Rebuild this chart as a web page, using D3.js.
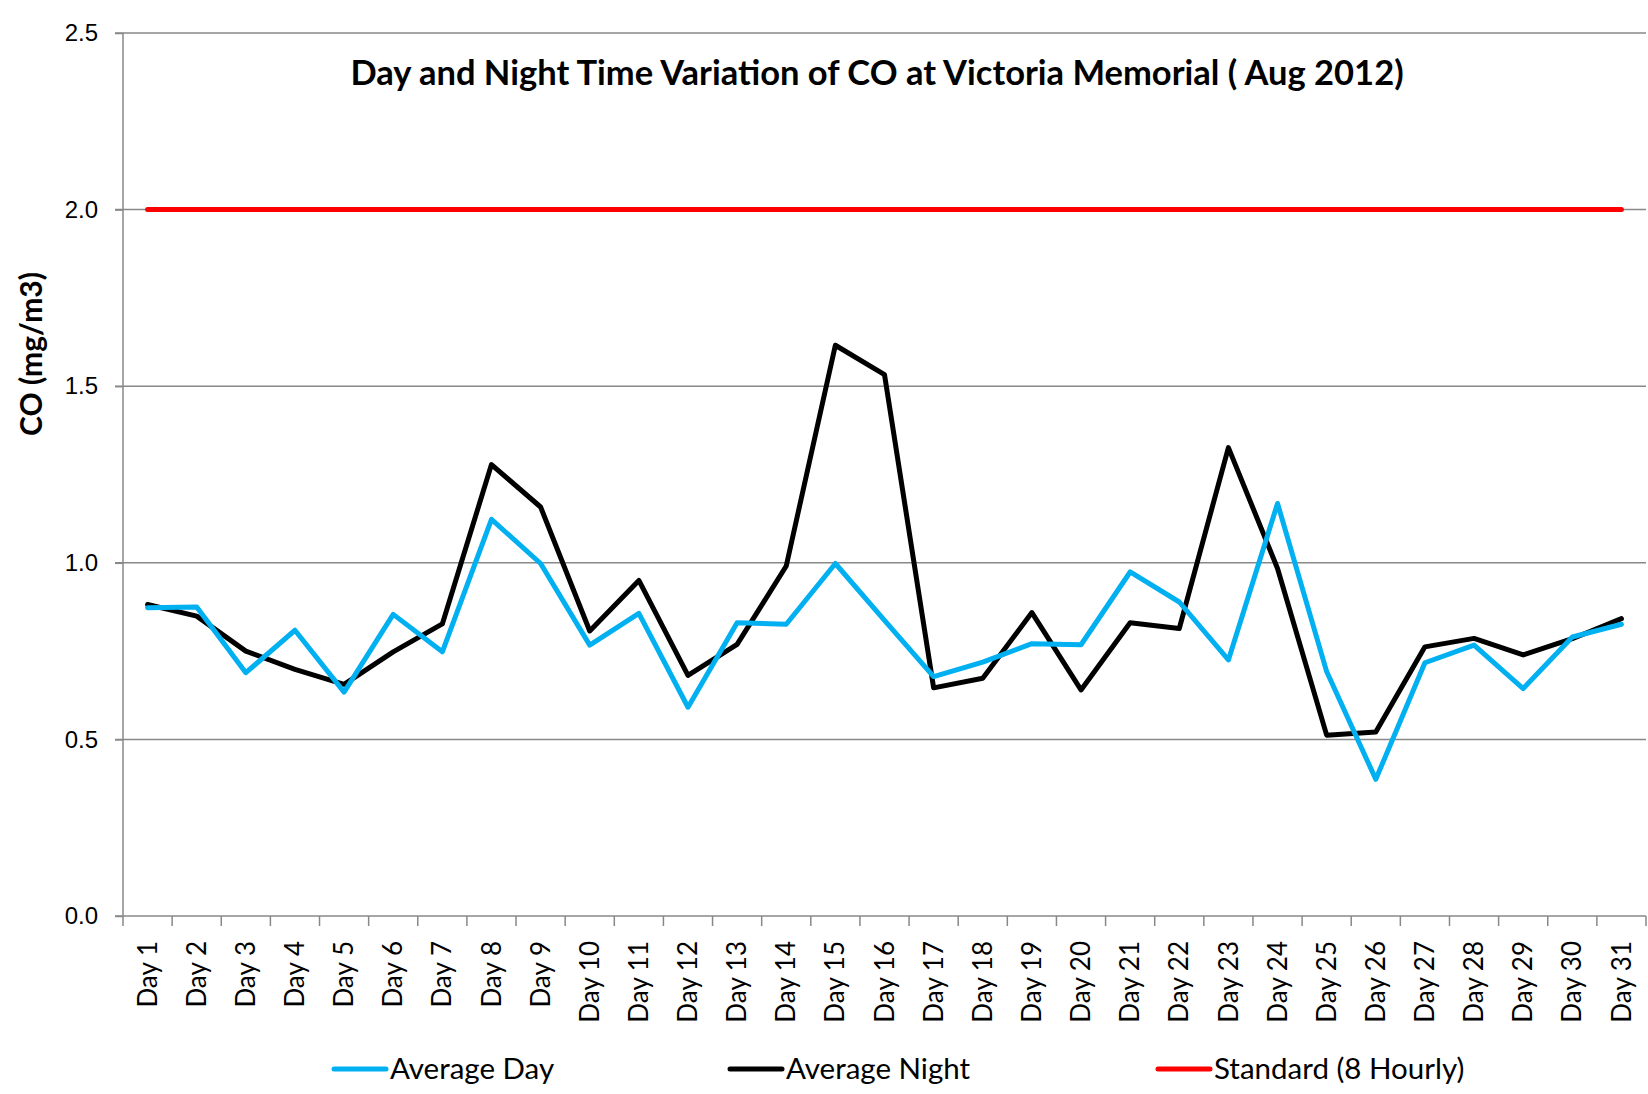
<!DOCTYPE html>
<html>
<head>
  <meta charset="utf-8">
  <style type="text/css">
    body { margin: 0; background: #fff; }
    svg { display: block; font-family: Lato, "Noto Sans", sans-serif; }
    .grid line { stroke: #888; stroke-width: 1.5px; }
    .axis path, .axis line { stroke: #888; stroke-width: 1.5px; }
    .axis text { fill: #000; }
    .y.axis text { font-size: 24px; }
    .x.axis text { font-size: 26px; }
    .title { font-size: 34.5px; font-weight: bold; }
    .ytitle { font-size: 30px; font-weight: bold; }
    .legend text { font-size: 29.5px; }
  </style>
</head>
<body>
  <script src="https://d3js.org/d3.v7.min.js"></script>
  <script>
    // categories
    var days = d3.range(1, 32).map(function(d) { return "Day " + d; });

    // series values (mg/m3)
    var avgDay = [0.873, 0.875, 0.689, 0.809, 0.634, 0.854, 0.748, 1.123, 0.998, 0.767,
                  0.857, 0.591, 0.830, 0.826, 0.998, 0.837, 0.678, 0.719, 0.771, 0.768,
                  0.974, 0.889, 0.725, 1.168, 0.692, 0.387, 0.717, 0.767, 0.644, 0.790,
                  0.826];
    var avgNight = [0.882, 0.849, 0.750, 0.698, 0.656, 0.748, 0.827, 1.278, 1.158, 0.807,
                    0.950, 0.681, 0.769, 0.991, 1.616, 1.533, 0.646, 0.673, 0.859, 0.640,
                    0.830, 0.814, 1.326, 0.984, 0.512, 0.521, 0.762, 0.786, 0.739, 0.785,
                    0.842];
    var standard = days.map(function() { return 2.0; });

    var yTicks = [0, 0.5, 1.0, 1.5, 2.0, 2.5];

    var series = [
      {name: "Average Day", values: avgDay, color: "#00b0f0"},
      {name: "Average Night", values: avgNight, color: "#000000"},
      {name: "Standard (8 Hourly)", values: standard, color: "#ff0000"}
    ];

    var W = 1648, H = 1094;
    var plotL = 123, plotR = 1646, plotT = 33, plotB = 916;

    var svg = d3.select("body").append("svg")
      .attr("width", W)
      .attr("height", H);

    var x = d3.scaleBand()
      .domain(days)
      .range([plotL, plotR])
      .padding(0);

    var y = d3.scaleLinear()
      .domain([0, 2.5])
      .range([plotB, plotT]);

    // gridlines
    svg.append("g")
      .attr("class", "grid")
      .selectAll("line")
      .data(yTicks.slice(1))
      .enter().append("line")
        .attr("x1", plotL - 8)
        .attr("x2", plotR)
        .attr("y1", function(d) { return y(d); })
        .attr("y2", function(d) { return y(d); });

    // y axis
    var yAxis = d3.axisLeft(y)
      .tickValues(yTicks)
      .tickFormat(d3.format(".1f"))
      .tickSize(8)
      .tickPadding(17);

    svg.append("g")
      .attr("class", "y axis")
      .attr("transform", "translate(" + plotL + ",0)")
      .call(yAxis)
      .call(function(g) { g.select(".domain").attr("d", "M0," + plotT + "V" + plotB); });

    // x axis, ticks between categories
    svg.append("g")
      .attr("class", "x axis")
      .attr("transform", "translate(0," + plotB + ")")
      .call(function(g) {
        g.append("line").attr("x1", plotL - 8).attr("x2", plotR);
        g.selectAll(".tk")
          .data(days.concat(["end"]))
          .enter().append("line")
            .attr("class", "tk")
            .attr("x1", function(d, i) { return plotL + i * x.bandwidth(); })
            .attr("x2", function(d, i) { return plotL + i * x.bandwidth(); })
            .attr("y1", 0)
            .attr("y2", 10);
        g.selectAll("text")
          .data(days)
          .enter().append("text")
            .attr("transform", function(d) {
              return "translate(" + (x(d) + x.bandwidth() / 2) + ",25) rotate(-90)";
            })
            .attr("text-anchor", "end")
            .attr("dy", "0.35em")
            .text(function(d) { return d; });
      });

    // lines
    var line = d3.line()
      .x(function(d, i) { return x(days[i]) + x.bandwidth() / 2; })
      .y(function(d) { return y(d); });

    svg.append("g")
      .selectAll("path")
      .data(series.slice().reverse())
      .enter().append("path")
        .attr("fill", "none")
        .attr("stroke", function(d) { return d.color; })
        .attr("stroke-width", 5)
        .attr("stroke-linejoin", "round")
        .attr("stroke-linecap", "round")
        .attr("d", function(d) { return line(d.values); });

    // title
    svg.append("text")
      .attr("class", "title")
      .attr("x", 877)
      .attr("y", 85)
      .attr("text-anchor", "middle")
      .text("Day and Night Time Variation of CO at Victoria Memorial ( Aug 2012)");

    svg.append("text")
      .attr("class", "ytitle")
      .attr("transform", "translate(42,354) rotate(-90)")
      .attr("text-anchor", "middle")
      .text("CO (mg/m3)");

    // legend
    var legendX = [334, 730, 1158];
    var legend = svg.append("g")
      .attr("class", "legend")
      .selectAll("g")
      .data(series)
      .enter().append("g")
        .attr("transform", function(d, i) { return "translate(" + legendX[i] + ",1069)"; });

    legend.append("line")
      .attr("x1", 0).attr("x2", 52)
      .attr("stroke", function(d) { return d.color; })
      .attr("stroke-width", 5)
      .attr("stroke-linecap", "round");

    legend.append("text")
      .attr("x", 56)
      .attr("dy", "0.35em")
      .text(function(d) { return d.name; });
  </script>
</body>
</html>
